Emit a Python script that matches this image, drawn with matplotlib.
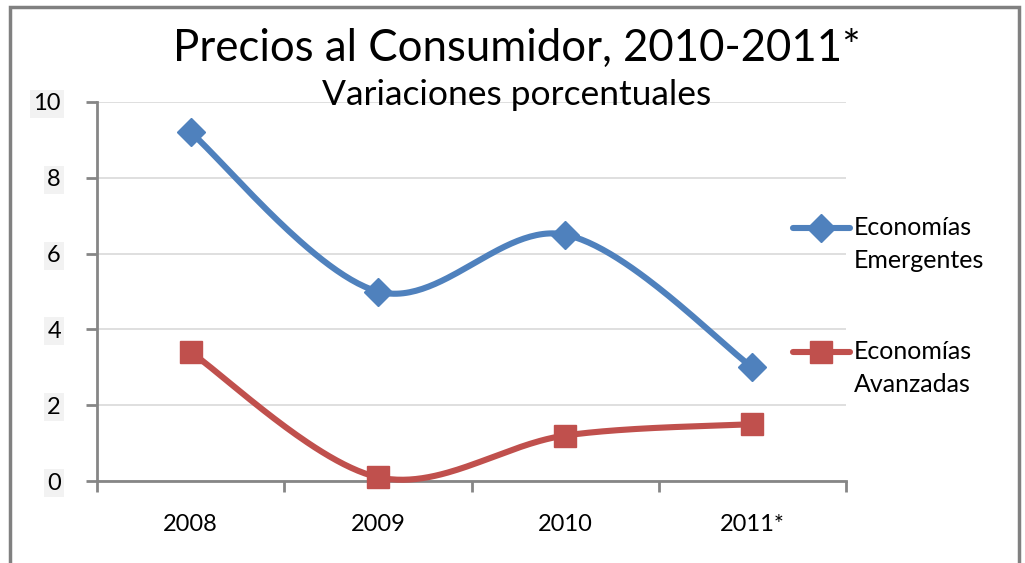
import numpy as np
import matplotlib
matplotlib.use("Agg")
import matplotlib.pyplot as plt
from matplotlib.lines import Line2D
from matplotlib.patches import Rectangle

categories = ["2008", "2009", "2010", "2011*"]
emergentes = [9.2, 5.0, 6.5, 3.0]
avanzadas = [3.4, 0.1, 1.2, 1.5]
yticks = [0, 2, 4, 6, 8, 10]
series_names = ["Economías\nEmergentes", "Economías\nAvanzadas"]

plt.rcParams['font.family'] = ['Lato', 'DejaVu Sans']

W, H = 1025, 563
fig = plt.figure(figsize=(W/100, H/100), dpi=100)

def px(x0, y0, x1, y1):
    return [x0/W, 1 - y1/H, (x1-x0)/W, (y1-y0)/H]

ax = fig.add_axes(px(97, 102, 846, 481))

def smooth(xs, ys, n=60):
    xs = np.asarray(xs, float); ys = np.asarray(ys, float)
    px_ = np.concatenate([[xs[0]], xs, [xs[-1]]])
    py_ = np.concatenate([[ys[0]], ys, [ys[-1]]])
    ox, oy = [], []
    for i in range(1, len(px_) - 2):
        p0 = np.array([px_[i-1], py_[i-1]]); p1 = np.array([px_[i], py_[i]])
        p2 = np.array([px_[i+1], py_[i+1]]); p3 = np.array([px_[i+2], py_[i+2]])
        c1 = p1 + (p2 - p0) / 6
        c2 = p2 - (p3 - p1) / 6
        s = np.linspace(0, 1, n)[:, None]
        b = ((1-s)**3)*p1 + 3*((1-s)**2)*s*c1 + 3*(1-s)*s**2*c2 + s**3*p2
        ox.extend(b[:, 0]); oy.extend(b[:, 1])
    return ox, oy

x = np.arange(len(categories))
blue = "#4F81BD"
red = "#C0504D"
LW = 4.4
styles = [(emergentes, blue, "D", 14), (avanzadas, red, "s", 16)]

for vals, col, mk, ms in styles:
    xs_s, ys_s = smooth(x, vals)
    ax.plot(xs_s, ys_s, color=col, lw=LW, solid_capstyle="round", zorder=3, clip_on=False)
    ax.plot(x, vals, linestyle="none", marker=mk, ms=ms, color=col, zorder=4, clip_on=False)

ax.set_xlim(-0.5, 3.5)
ax.set_ylim(0, 10)
ax.set_yticks(yticks)
ax.set_yticklabels([str(v) for v in yticks])
for lab in ax.get_yticklabels():
    lab.set_bbox(dict(facecolor="#F2F2F2", edgecolor="none", pad=1.5))
ax.set_xticks(x)
ax.set_xticklabels(categories)
ax.set_xticks(np.arange(-0.5, 3.6, 1), minor=True)
ax.tick_params(axis="x", which="major", length=0, labelsize=17, pad=24)
ax.tick_params(axis="x", which="minor", length=8, width=2, color="#868686", direction="out")
ax.tick_params(axis="y", length=8, width=2, color="#868686", labelsize=17, pad=18)
ax.grid(axis="y", color="#D9D9D9", lw=1.2, zorder=0)
for s in ["top", "right"]:
    ax.spines[s].set_visible(False)
for s in ["left", "bottom"]:
    ax.spines[s].set_color("#868686")
    ax.spines[s].set_linewidth(2)

# Legend (manual, in figure pixel coordinates)
leg_y = [228, 352]
for (vals, col, mk, ms), name, yy in zip(styles, series_names, leg_y):
    fy = 1 - yy/H
    fig.add_artist(Line2D([793/W, 850/W], [fy, fy], color=col, lw=LW,
                          solid_capstyle="round", transform=fig.transFigure))
    fig.add_artist(Line2D([821/W], [fy], color=col, marker=mk, ms=ms, linestyle="none",
                          transform=fig.transFigure))
    fig.text(854/W, 1 - (yy - 12)/H, name, ha="left", va="top", fontsize=18, linespacing=1.5)

fig.text(517/W, 1 - 48/H, "Precios al Consumidor, 2010-2011*", ha="center", va="center", fontsize=31.5)
fig.text(517/W, 1 - 95/H, "Variaciones porcentuales", ha="center", va="center", fontsize=25.5)

# figure border
fig.patches.append(Rectangle((10/W, -0.1), (1019-10)/W, 1.1 - 7/H, transform=fig.transFigure,
                             fill=False, edgecolor="#808080", lw=2.5))

fig.savefig("out.png", dpi=100)
